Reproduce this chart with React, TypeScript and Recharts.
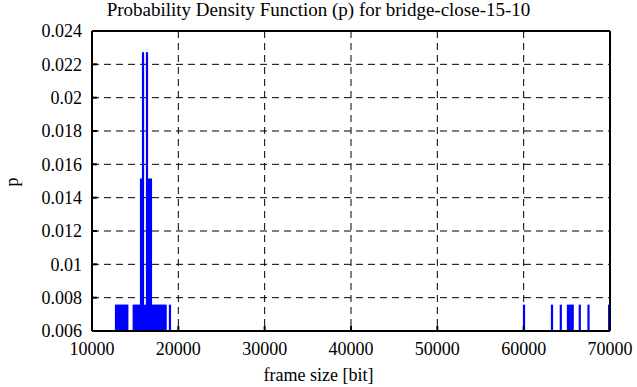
import { ComposedChart, Bar, XAxis, YAxis, CartesianGrid } from 'recharts';

// frame sizes (bit) and probabilities
const frameSizes = [
  12780, 12950, 13120, 13290, 13460, 13630, 13800, 13970, 14090,
  14830, 15000, 15170, 15340, 15510, 15680, 15910, 16140, 16370, 16600, 16830,
  17000, 17170, 17340, 17510, 17680, 17850, 18020, 18190, 18360, 18530, 19030,
  60040, 63280, 64300, 65130, 65340, 65550, 65680, 66500, 67510, 69900,
];
const probs = [
  0.00758, 0.00758, 0.00758, 0.00758, 0.00758, 0.00758, 0.00758, 0.00758, 0.00758,
  0.00758, 0.00758, 0.00758, 0.00758, 0.00758, 0.01515, 0.02273, 0.00758, 0.02273, 0.01515, 0.01515,
  0.00758, 0.00758, 0.00758, 0.00758, 0.00758, 0.00758, 0.00758, 0.00758, 0.00758, 0.00758, 0.00758,
  0.00758, 0.00758, 0.00758, 0.00758, 0.00758, 0.00758, 0.00758, 0.00758, 0.00758, 0.00758,
];

const xTicks = [10000, 20000, 30000, 40000, 50000, 60000, 70000];
const yTicks = [0.006, 0.008, 0.01, 0.012, 0.014, 0.016, 0.018, 0.02, 0.022, 0.024];
const yTickLabels = ['0.006', '0.008', '0.01', '0.012', '0.014', '0.016', '0.018', '0.02', '0.022', '0.024'];

const title = 'Probability Density Function (p) for bridge-close-15-10';
const xLabel = 'frame size [bit]';
const yLabel = 'p';

const data = frameSizes.map((x, i) => ({ x, p: probs[i] }));

const FONT = '"Liberation Serif", "DejaVu Serif", serif';
const tickFont = { fontFamily: FONT, fontSize: 18, fill: '#000' };
const axisStroke = { stroke: '#000', strokeWidth: 2 };

// gnuplot-style impulse: fixed width, centred on the bar's x position
const Impulse = (props: any) => {
  const { x, y, width, height } = props;
  if (height == null || height <= 0) return null;
  const cx = x + width / 2;
  return <rect x={cx - 1.1} y={y} width={2.2} height={height} fill="#0000ff" />;
};

export default function App() {
  return (
    <div style={{ position: 'absolute', left: 0, top: 0, width: 637, height: 387, background: '#fff', fontFamily: FONT }}>
      <div style={{ position: 'absolute', left: 0, width: 637, top: -1, textAlign: 'center', fontSize: 19, lineHeight: '22px', color: '#000' }}>
        {title}
      </div>
      <div style={{ position: 'absolute', left: 0, width: 637, top: 364, textAlign: 'center', fontSize: 18, lineHeight: '22px', color: '#000' }}>
        {xLabel}
      </div>
      <div
        style={{
          position: 'absolute', left: 2, top: 171, width: 20, height: 22, fontSize: 18, lineHeight: '22px',
          textAlign: 'center', transform: 'rotate(-90deg)', color: '#000',
        }}
      >
        {yLabel}
      </div>
      <ComposedChart width={637} height={387} data={data} margin={{ top: 30, right: 26, bottom: 55, left: 91 }}>
        <CartesianGrid stroke="#000" strokeWidth={1} strokeDasharray="7 5" />
        <XAxis
          dataKey="x"
          type="number"
          domain={[10000, 70000]}
          ticks={xTicks}
          height={1}
          tickSize={-5}
          tickMargin={16}
          tick={tickFont}
          axisLine={axisStroke}
          tickLine={axisStroke}
          allowDataOverflow
        />
        <XAxis
          xAxisId="top"
          orientation="top"
          type="number"
          domain={[10000, 70000]}
          ticks={xTicks}
          height={1}
          tickSize={-5}
          tick={false}
          axisLine={axisStroke}
          tickLine={axisStroke}
        />
        <YAxis
          type="number"
          domain={[0.006, 0.024]}
          ticks={yTicks}
          width={1}
          tickSize={-5}
          tickMargin={15}
          tick={tickFont}
          tickFormatter={(v: number) => yTickLabels[yTicks.indexOf(v)] ?? String(v)}
          axisLine={axisStroke}
          tickLine={axisStroke}
          allowDataOverflow
        />
        <YAxis
          yAxisId="right"
          orientation="right"
          type="number"
          domain={[0.006, 0.024]}
          ticks={yTicks}
          width={1}
          tickSize={-5}
          tick={false}
          axisLine={axisStroke}
          tickLine={axisStroke}
        />
        <Bar dataKey="p" fill="#0000ff" shape={Impulse} isAnimationActive={false} />
      </ComposedChart>
    </div>
  );
}
